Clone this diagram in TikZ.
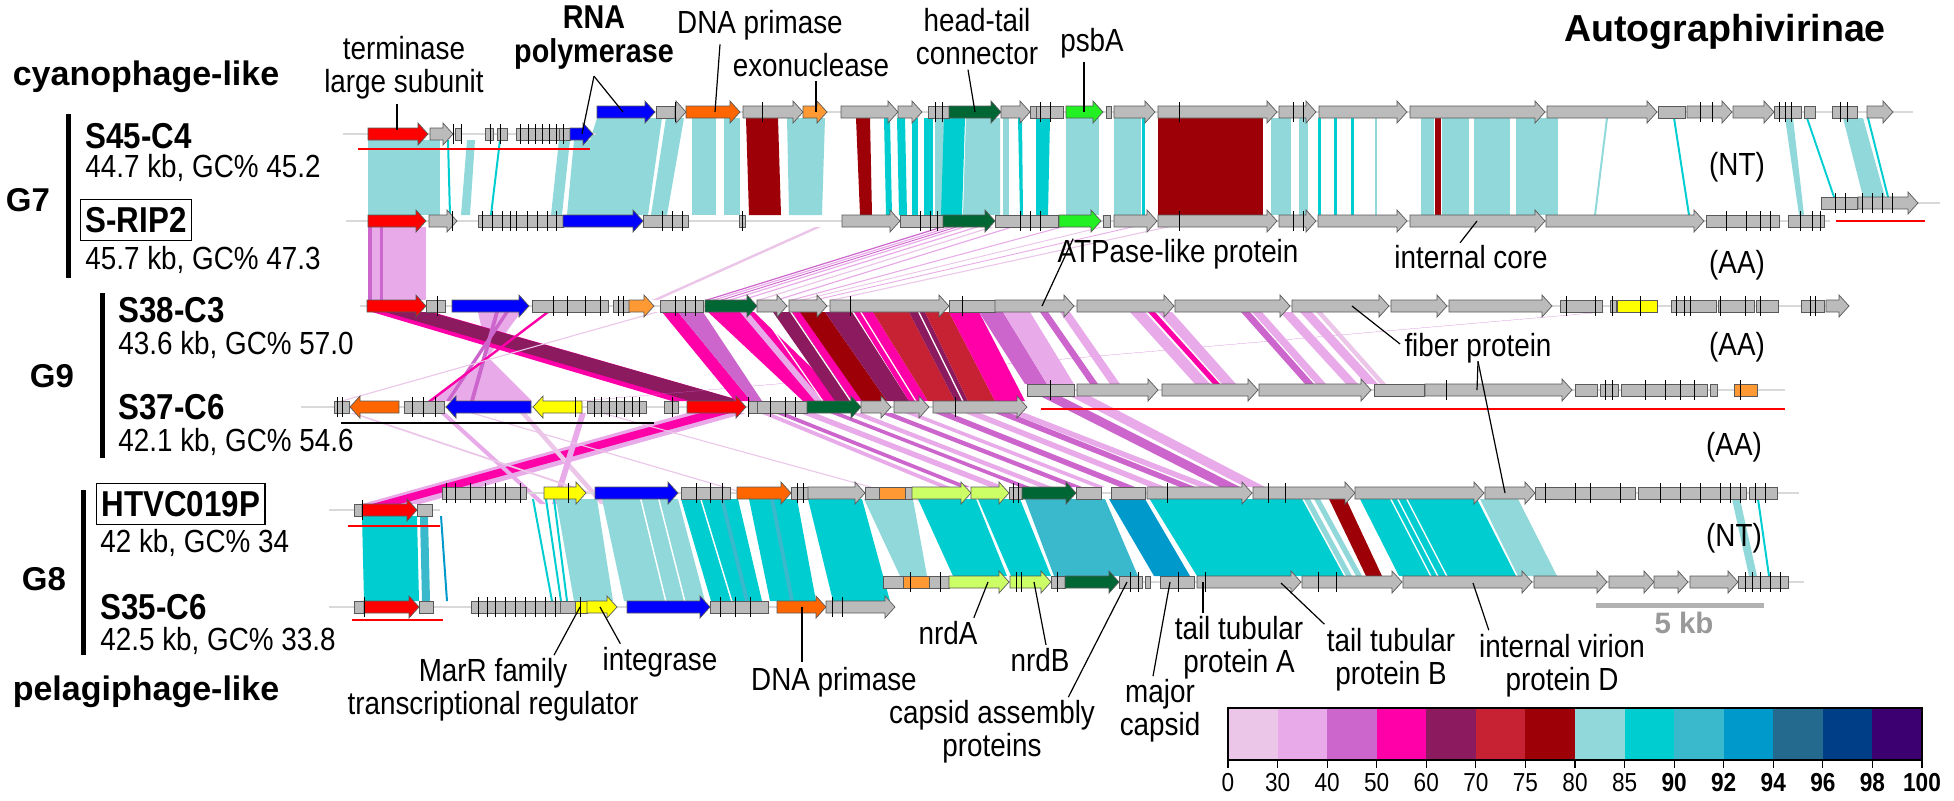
\documentclass[tikz,border=0pt]{standalone}
\usepackage{fontspec}
\setmainfont{Liberation Sans}
\newfontfamily\narrowfont{Liberation Sans}[FakeStretch=0.87]
\usepackage{xcolor}
% gene colours
\definecolor{gred}{HTML}{FF0000}
\definecolor{gblue}{HTML}{0000FF}
\definecolor{gorange}{HTML}{FF6600}
\definecolor{gltorange}{HTML}{FF9933}
\definecolor{gdkgreen}{HTML}{006633}
\definecolor{gltgreen}{HTML}{22F022}
\definecolor{gyellow}{HTML}{FFFF00}
\definecolor{gygreen}{HTML}{CCFF66}
\definecolor{ggrey}{HTML}{BBBBBB}
% identity scale
\definecolor{s0}{HTML}{EBC6E8}
\definecolor{s30}{HTML}{E8AAE8}
\definecolor{s40}{HTML}{CC66CC}
\definecolor{s50}{HTML}{FF00A8}
\definecolor{s60}{HTML}{8B1A5E}
\definecolor{s70}{HTML}{C62234}
\definecolor{s75}{HTML}{9E0008}
\definecolor{s80}{HTML}{90D8DA}
\definecolor{s85}{HTML}{00CDD0}
\definecolor{s90}{HTML}{3AB8CC}
\definecolor{s92}{HTML}{0099CC}
\definecolor{s94}{HTML}{236A8E}
\definecolor{s96}{HTML}{003F88}
\definecolor{s98}{HTML}{3C0070}
\usepackage{tikz}
\usetikzlibrary{positioning}

\newcommand{\genr}[4]{\filldraw[gene,fill=#4] (#1,#3-6) -- (#2-10,#3-6) -- (#2-10,#3-11) -- (#2,#3) -- (#2-10,#3+11) -- (#2-10,#3+6) -- (#1,#3+6) -- cycle;}
\newcommand{\genl}[4]{\filldraw[gene,fill=#4] (#2,#3-6) -- (#1+10,#3-6) -- (#1+10,#3-11) -- (#1,#3) -- (#1+10,#3+11) -- (#1+10,#3+6) -- (#2,#3+6) -- cycle;}
\newcommand{\genb}[4]{\filldraw[gene,fill=#4] (#1,#3-6) rectangle (#2,#3+6);}

\begin{document}
\begin{tikzpicture}[x=0.5pt, y=-0.5pt,
    gene/.style={draw=black!65, line width=0.35pt},
    track/.style={draw=black!15, line width=0.8pt},
    tick/.style={draw=black, line width=0.35pt},
    ptr/.style={draw=black, line width=0.6pt},
    uline/.style={draw=red, line width=0.8pt},
    gbar/.style={draw=black, line width=2.5pt},
    lbl/.style={font=\narrowfont\fontsize{16}{16.5}\selectfont, align=center, inner sep=0pt},
    info/.style={font=\narrowfont\fontsize{16}{17}\selectfont, anchor=west, inner sep=0pt},
    strain/.style={font=\narrowfont\bfseries\fontsize{18}{19}\selectfont, anchor=west, inner sep=0pt},
    boxed/.style={strain, draw=black, line width=0.6pt, inner xsep=2.5pt, inner ysep=4pt},
    grp/.style={font=\bfseries\fontsize{16.5}{18}\selectfont, inner sep=0pt},
    ttl/.style={font=\bfseries\fontsize{17}{19}\selectfont, inner sep=0pt},
    scl/.style={font=\narrowfont\fontsize{13}{14}\selectfont, inner sep=0pt}]
  \useasboundingbox (0,0) rectangle (1954,800);

  % ---- similarity bands, G7 (NT)
  \foreach \c/\p/\q/\r/\s in {s80/368/440/368/440, s85/447/449/449/451, s80/467/475/461/470,
      s85/499/501/490/492, s80/559/570/551/562, s80/574/593/567/590}
    \fill[\c] (\p,140) -- (\q,140) -- (\s,215) -- (\r,215) -- cycle;
  \foreach \c/\p/\q/\r/\s in {s80/597/662/567/648, s80/666/684/651/667, s80/692/716/692/716,
      s80/724/740/724/740, s75/746/778/749/781, s80/787/825/789/822, s75/856/870/860/872,
      s85/884/890/886/892, s85/897/905/899/907, s85/912/918/912/918, s85/924/933/924/933,
      s80/935/944/935/944, s85/944/965/941/962, s80/966/1000/963/1000, s80/1003/1009/1003/1009,
      s85/1018/1022/1020/1023, s85/1036/1050/1036/1048, s80/1066/1099/1066/1099,
      s80/1114/1141/1114/1141, s85/1142/1145/1142/1145, s75/1158/1263/1158/1263,
      s80/1271/1291/1271/1291, s80/1299/1308/1299/1308, s85/1318/1321/1318/1321,
      s85/1334/1337/1334/1337, s85/1351/1354/1351/1354, s80/1375/1377/1375/1377,
      s80/1421/1434/1421/1434, s75/1435/1441/1435/1441, s80/1442/1469/1442/1469,
      s80/1474/1510/1474/1510, s80/1516/1558/1516/1558, s80/1606/1608/1594/1596,
      s85/1673/1675/1688/1690, s80/1785/1793/1799/1804}
    \fill[\c] (\p,118) -- (\q,118) -- (\s,215) -- (\r,215) -- cycle;
  \foreach \c/\p/\q/\r/\s in {s85/1806/1808/1833/1835, s80/1843/1863/1863/1885, s85/1867/1869/1887/1889}
    \fill[\c] (\p,118) -- (\q,118) -- (\s,197) -- (\r,197) -- cycle;

  % ---- G7 to G9 (AA)
  \foreach \c/\p/\q/\r/\s in {s30/368/426/368/426, s40/368/372/368/372, s40/380/383/380/383,
      s0/815/821/652/658, s40/940/944/705/709, s30/948/952/712/716, s40/955/958/720/723,
      s30/962/966/728/732, s30/975/979/740/744, s0/990/994/757/761, s30/1010/1014/775/779,
      s30/1060/1064/790/794, s0/1100/1104/800/804, s30/1130/1134/813/817, s0/1165/1170/830/835}
    \fill[\c] (\p,227) -- (\q,227) -- (\s,300) -- (\r,300) -- cycle;

  % ---- G9 (AA)
  \fill[s30] (478,312) -- (521,312) -- (488,357) -- cycle;
  \fill[s30] (488,357) -- (429,401) -- (532,401) -- cycle;
  \foreach \c/\p/\q/\r/\s in {s50/372/432/672/742, s60/385/430/690/742, s40/505/509/446/450,
      s40/495/499/470/474, s50/546/550/428/432, s0/655/659/340/344, s40/1603/1605/580/582,
      s50/662/678/735/751, s40/678/703/751/762, s50/708/754/803/846, s30/740/748/815/823,
      s60/773/792/835/852, s50/792/808/852/862, s75/800/825/862/887, s60/825/852/887/909,
      s50/854/873/909/928, s70/873/909/928/955, s60/909/925/955/968, s70/925/949/968/995,
      s50/949/979/995/1025}
    \fill[\c] (\p,312) -- (\q,312) -- (\s,401) -- (\r,401) -- cycle;
  \foreach \c/\p/\q/\r/\s in {s40/979/1003/1025/1047, s30/1003/1030/1047/1074, s40/1040/1048/1090/1098,
      s30/1060/1070/1110/1120, s30/1130/1145/1195/1210, s50/1148/1155/1213/1220,
      s30/1158/1172/1222/1236, s40/1241/1250/1305/1314, s30/1252/1262/1316/1326,
      s30/1280/1292/1346/1358, s30/1300/1312/1366/1378, s0/1316/1322/1380/1386}
    \fill[\c] (\p,312) -- (\q,312) -- (\s,384) -- (\r,384) -- cycle;
  % white gaps between neighbouring hits
  \foreach \p/\r in {760/822, 790/850, 860/915, 918/962}
    \fill[white] (\p,312) -- (\p+1.5,312) -- (\r+1.5,401) -- (\r,401) -- cycle;

  % ---- G9 to G8 (AA)
  \foreach \c/\p/\q/\r/\s in {s30/687/746/362/420, s50/700/730/372/400, s30/440/446/540/546,
      s0/520/526/600/606, s30/580/586/552/558, s0/350/355/620/626, s0/600/604/930/934,
      s0/470/474/780/784}
    \fill[\c] (\p,413) -- (\q,413) -- (\s,504) -- (\r,504) -- cycle;
  \foreach \c/\p/\q/\r/\s in {s30/760/770/940/950, s40/775/785/960/970, s30/800/815/990/1005,
      s40/830/840/1020/1030, s30/850/862/1040/1052, s40/880/892/1070/1082, s30/905/915/1095/1105,
      s40/935/950/1120/1135, s30/965/980/1150/1165, s40/995/1010/1180/1195, s30/1010/1025/1200/1215}
    \fill[\c] (\p,413) -- (\q,413) -- (\s,487) -- (\r,487) -- cycle;
  \foreach \c/\p/\q/\r/\s in {s40/1040/1060/1220/1240, s30/1070/1090/1245/1265}
    \fill[\c] (\p,396) -- (\q,396) -- (\s,487) -- (\r,487) -- cycle;

  % ---- G8 (NT)
  \foreach \c/\p/\q/\r/\s in {s85/362/417/364/419, s90/420/428/422/430, s92/440/442/446/448}
    \fill[\c] (\p,516) -- (\q,516) -- (\s,601) -- (\r,601) -- cycle;
  \foreach \c/\p/\q/\r/\s in {s85/532/534/551/553, s85/545/547/560/562, s85/553/555/566/568,
      s80/556/597/574/613, s80/602/678/624/705, s85/681/738/711/762, s90/720/724/745/749,
      s85/749/797/770/816, s90/770/774/790/794, s85/808/862/833/890}
    \fill[\c] (\p,499) -- (\q,499) -- (\s,601) -- (\r,601) -- cycle;
  \foreach \c/\p/\q/\r/\s in {s80/864/913/900/927, s85/918/976/953/1007, s85/978/1020/1011/1051,
      s90/1025/1105/1054/1138, s92/1109/1145/1154/1190, s85/1149/1302/1197/1344,
      s80/1304/1310/1346/1352, s80/1314/1320/1356/1362, s75/1329/1346/1366/1382,
      s85/1360/1477/1399/1516, s80/1480/1518/1518/1557, s80/1732/1740/1749/1757,
      s85/1757/1759/1768/1770}
    \fill[\c] (\p,499) -- (\q,499) -- (\s,576) -- (\r,576) -- cycle;
  \foreach \p/\r in {640/665, 658/684, 700/731, 742/765}
    \fill[white] (\p,499) -- (\p+1.5,499) -- (\r+1.5,601) -- (\r,601) -- cycle;
  \foreach \p/\r in {1148/1195, 1390/1430, 1397/1437, 1406/1446}
    \fill[white] (\p,499) -- (\p+1.5,499) -- (\r+1.5,576) -- (\r,576) -- cycle;

  % ---- genome tracks
  \draw[track] (343,134) -- (596,134);
  \draw[track] (597,112) -- (1913,112);
  \draw[track] (346,221) -- (1830,221);
  \draw[track] (1821,203) -- (1940,203);
  \draw[track] (360,306) -- (1849,306);
  \draw[track] (301,407) -- (1027,407);
  \draw[track] (1027,390) -- (1785,390);
  \draw[track] (329,510) -- (440,510);
  \draw[track] (442,493) -- (1799,493);
  \draw[track] (329,607) -- (895,607);
  \draw[track] (883,582) -- (1804,582);

  % S45-C4
  \foreach \d/\a/\b/\c in {r/368/428/gred, r/430/453/ggrey, b/455/461/ggrey, b/485/493/ggrey,
      b/497/507/ggrey, b/516/559/ggrey, b/559/570/ggrey, r/570/593/gblue}
    {\csname gen\d\endcsname{\a}{\b}{134}{\c}}
  \foreach \x in {453,461,490,500,520,528,535,542,549,556,563}
    \draw[tick] (\x,124) -- (\x,144);
  \foreach \d/\a/\b/\c in {r/597/655/gblue, b/656/675/ggrey, r/675/686/ggrey, r/686/740/gorange,
      r/743/803/ggrey, r/803/827/gltorange, r/841/898/ggrey, r/898/922/ggrey, b/928/949/ggrey,
      r/949/1001/gdkgreen, r/1001/1030/ggrey, b/1030/1036/ggrey, b/1036/1063/ggrey,
      r/1066/1103/gltgreen, b/1106/1111/ggrey, r/1114/1155/ggrey, r/1158/1277/ggrey,
      r/1279/1316/ggrey, r/1319/1407/ggrey, r/1410/1545/ggrey, r/1547/1657/ggrey,
      b/1658/1685/ggrey, r/1687/1732/ggrey, r/1733/1774/ggrey, b/1774/1801/ggrey,
      b/1804/1815/ggrey, b/1832/1857/ggrey, r/1867/1893/ggrey}
    {\csname gen\d\endcsname{\a}{\b}{112}{\c}}
  \foreach \x in {675,762,935,942,1040,1050,1179,1293,1303,1700,1712,1779,1785,1791,1840,1847}
    \draw[tick] (\x,102) -- (\x,122);

  % S-RIP2
  \foreach \d/\a/\b/\c in {r/368/426/gred, r/429/457/ggrey, b/478/563/ggrey, r/563/643/gblue,
      b/643/688/ggrey, b/739/745/ggrey, r/842/900/ggrey, b/900/943/ggrey, r/943/995/gdkgreen,
      b/995/1058/ggrey, r/1059/1101/gltgreen, b/1103/1110/ggrey, r/1114/1157/ggrey,
      r/1158/1277/ggrey, r/1279/1316/ggrey, r/1318/1407/ggrey, r/1410/1545/ggrey,
      r/1546/1704/ggrey, b/1706/1779/ggrey, b/1788/1824/ggrey}
    {\csname gen\d\endcsname{\a}{\b}{221}{\c}}
  \foreach \x in {452,482,492,502,510,516,527,537,547,556,662,672,682,742,920,930,937,1020,
      1030,1040,1179,1293,1303,1726,1746,1760,1770,1800,1812,1820}
    \draw[tick] (\x,211) -- (\x,231);
  \foreach \d/\a/\b/\c in {b/1821/1857/ggrey, r/1858/1918/ggrey}
    {\csname gen\d\endcsname{\a}{\b}{203}{\c}}
  \foreach \x in {1835,1845,1862,1872,1882,1892}
    \draw[tick] (\x,193) -- (\x,213);

  % S38-C3
  \foreach \d/\a/\b/\c in {r/367/426/gred, b/426/445/ggrey, r/452/529/gblue, b/532/608/ggrey,
      b/613/629/ggrey, r/629/654/gltorange, b/660/703/ggrey, r/705/757/gdkgreen, r/757/787/ggrey,
      r/789/827/ggrey, r/830/949/ggrey, b/949/995/ggrey, r/995/1074/ggrey, r/1077/1174/ggrey,
      r/1175/1290/ggrey, r/1292/1389/ggrey, r/1391/1447/ggrey, r/1449/1552/ggrey,
      b/1560/1602/ggrey, b/1610/1616/ggrey, b/1617/1657/gyellow, b/1671/1716/ggrey,
      b/1718/1754/ggrey, b/1756/1778/ggrey, b/1801/1824/ggrey, r/1826/1849/ggrey}
    {\csname gen\d\endcsname{\a}{\b}{306}{\c}}
  \foreach \x in {437,553,567,585,600,618,623,675,685,695,850,962,1566,1595,1612,1640,1676,
      1684,1690,1720,1745,1760,1810,1815}
    \draw[tick] (\x,296) -- (\x,316);

  % S37-C6
  \foreach \d/\a/\b/\c in {b/334/349/ggrey, l/350/399/gorange, b/404/444/ggrey, l/446/531/gblue,
      l/533/582/gyellow, b/587/646/ggrey, b/664/678/ggrey, r/687/746/gred, b/748/757/ggrey,
      b/757/807/ggrey, r/807/861/gdkgreen, r/861/891/ggrey, r/894/929/ggrey, r/933/1027/ggrey}
    {\csname gen\d\endcsname{\a}{\b}{407}{\c}}
  \foreach \x in {337,342,412,423,435,575,594,601,609,616,624,632,639,672,748,770,785,795,955}
    \draw[tick] (\x,397) -- (\x,417);
  \foreach \d/\a/\b/\c in {b/1027/1074/ggrey, r/1077/1158/ggrey, r/1162/1258/ggrey,
      r/1259/1371/ggrey, b/1374/1424/ggrey, r/1425/1572/ggrey, b/1575/1597/ggrey,
      b/1600/1618/ggrey, b/1621/1707/ggrey, b/1710/1717/ggrey, b/1734/1757/gltorange}
    {\csname gen\d\endcsname{\a}{\b}{390}{\c}}
  \foreach \x in {1050,1446,1605,1612,1645,1665,1680,1694,1740}
    \draw[tick] (\x,380) -- (\x,400);

  % HTVC019P
  \foreach \d/\a/\b/\c in {b/354/362/ggrey, r/362/417/gred, b/417/432/ggrey}
    {\csname gen\d\endcsname{\a}{\b}{510}{\c}}
  \draw[tick] (362,500) -- (362,520);
  \foreach \d/\a/\b/\c in {b/442/526/ggrey, r/544/586/gyellow, r/595/678/gblue, b/681/730/ggrey,
      r/737/791/gorange, b/791/808/ggrey, r/808/865/ggrey, b/865/879/ggrey, b/879/905/gltorange,
      b/905/912/ggrey, r/912/971/gygreen, r/971/1009/gygreen, b/1009/1022/ggrey,
      r/1022/1076/gdkgreen, b/1076/1101/ggrey, b/1111/1145/ggrey, r/1147/1252/ggrey,
      r/1253/1355/ggrey, r/1355/1484/ggrey, r/1485/1535/ggrey, b/1535/1635/ggrey,
      b/1638/1746/ggrey, b/1749/1777/ggrey}
    {\csname gen\d\endcsname{\a}{\b}{493}{\c}}
  \foreach \x in {446,455,470,485,495,505,520,568,696,710,722,797,803,1013,1018,1167,1268,
      1285,1545,1575,1590,1620,1660,1680,1700,1720,1730,1740,1755,1765}
    \draw[tick] (\x,483) -- (\x,503);

  % S35-C6
  \foreach \d/\a/\b/\c in {b/354/364/ggrey, r/364/419/gred, b/419/433/ggrey, b/471/560/ggrey,
      b/560/575/ggrey, b/575/587/gyellow, r/587/617/gyellow, r/627/710/gblue, b/710/768/ggrey,
      r/777/826/gorange, r/826/895/ggrey}
    {\csname gen\d\endcsname{\a}{\b}{607}{\c}}
  \foreach \x in {364,478,487,495,505,515,525,535,545,555,580,720,735,750,832,842}
    \draw[tick] (\x,597) -- (\x,617);
  \foreach \d/\a/\b/\c in {b/883/903/ggrey, b/903/929/gltorange, b/929/949/ggrey,
      r/949/1009/gygreen, r/1010/1051/gygreen, b/1051/1065/ggrey, r/1065/1119/gdkgreen,
      b/1119/1142/ggrey, b/1145/1150/ggrey, b/1160/1194/ggrey, r/1197/1301/ggrey,
      r/1302/1402/ggrey, r/1403/1532/ggrey, r/1534/1607/ggrey, r/1609/1654/ggrey,
      r/1654/1688/ggrey, r/1690/1738/ggrey, b/1738/1788/ggrey}
    {\csname gen\d\endcsname{\a}{\b}{582}{\c}}
  \foreach \x in {910,940,1016,1021,1057,1130,1138,1178,1205,1318,1336,1745,1752,1760,1770,1780}
    \draw[tick] (\x,572) -- (\x,592);

  % underlines of shifted segments
  \draw[uline] (358,149) -- (590,149);
  \draw[uline] (1836,221) -- (1925,221);
  \draw[uline] (1041,409) -- (1785,409);
  \draw[uline] (348,526) -- (440,526);
  \draw[uline] (352,620) -- (443,620);
  \draw[draw=black, line width=0.8pt] (341,423) -- (654,423);

  % ---- titles and genome names
  \node[ttl] (cyano) at (146,77) {cyanophage-like};
  \node[ttl] (pelagi) at (146,692) {pelagiphage-like};
  \node[font=\bfseries\fontsize{18.8}{20}\selectfont, inner sep=0pt] (subfam) at (1725,32) {Autographivirinae};
  \draw[gbar] (68,114) -- (68,278);
  \draw[gbar] (102,293) -- (102,458);
  \draw[gbar] (83,490) -- (83,655);
  \node[grp] (g7) at (28,200) {G7};
  \node[grp] (g9) at (52,376) {G9};
  \node[grp] (g8) at (44,579) {G8};
  \node[strain] (s45) at (85,136) {S45-C4};
  \node[info] (s45i) at (85,168) {44.7 kb, GC\% 45.2};
  \node[boxed] (srip) at (80,220) {S-RIP2};
  \node[info] (sripi) at (85,260) {45.7 kb, GC\% 47.3};
  \node[strain] (s38) at (118,310) {S38-C3};
  \node[info] (s38i) at (118,345) {43.6 kb, GC\% 57.0};
  \node[strain] (s37) at (118,407) {S37-C6};
  \node[info] (s37i) at (118,442) {42.1 kb, GC\% 54.6};
  \node[boxed] (htvc) at (96,504) {HTVC019P};
  \node[info] (htvci) at (100,543) {42 kb, GC\% 34};
  \node[strain] (s35) at (100,607) {S35-C6};
  \node[info] (s35i) at (100,641) {42.5 kb, GC\% 33.8};
  \node[lbl] (nt1) at (1737,167) {(NT)};
  \node[lbl] (aa1) at (1737,265) {(AA)};
  \node[lbl] (aa2) at (1737,347) {(AA)};
  \node[lbl] (aa3) at (1734,447) {(AA)};
  \node[lbl] (nt2) at (1734,538) {(NT)};

  % ---- gene labels
  \coordinate (tlsG) at (397,130);
  \coordinate (rnapG) at (623,112);
  \coordinate (rnapH) at (582,134);
  \coordinate (dnapG) at (715,112);
  \coordinate (exoG) at (816,112);
  \coordinate (htcG) at (975,112);
  \coordinate (psbaG) at (1084,112);
  \coordinate (atpG) at (1042,306);
  \coordinate (icoreG) at (1477,221);
  \coordinate (fibG) at (1352,306);
  \coordinate (fibH) at (1477,390);
  \coordinate (fibK) at (1505,493);
  \coordinate (marrG) at (580,607);
  \coordinate (integG) at (600,607);
  \coordinate (dnpbG) at (802,607);
  \coordinate (nrdaG) at (988,582);
  \coordinate (nrdbG) at (1034,582);
  \coordinate (csaG) at (1127,582);
  \coordinate (mcapG) at (1170,582);
  \coordinate (ttaG) at (1203,582);
  \coordinate (ttbG) at (1281,583);
  \coordinate (ivpG) at (1473,583);

  \node[lbl] (tls) at (404,68) {terminase\\large subunit};
  \node[lbl, font=\narrowfont\bfseries\fontsize{16.5}{17}\selectfont] (rnap) at (594,38) {RNA\\polymerase};
  \node[lbl] (dnap) at (760,25) {DNA primase};
  \node[lbl] (exo) at (811,65) {exonuclease};
  \node[lbl] (htc) at (977,37) {head-tail\\connector};
  \node[lbl] (psba) at (1092,43) {psbA};
  \node[lbl] (atp) at (1178,254) {ATPase-like protein};
  \node[lbl] (icore) at (1471,257) {internal core};
  \node[lbl] (fib) at (1478,348) {fiber protein};
  \node[lbl] (marr) at (493,690) {MarR family\\transcriptional regulator};
  \node[lbl] (integ) at (660,662) {integrase};
  \node[lbl] (dnpb) at (834,682) {DNA primase};
  \node[lbl] (nrda) at (948,633) {nrdA};
  \node[lbl] (nrdb) at (1040,660) {nrdB};
  \node[lbl] (csa) at (992,732) {capsid assembly\\proteins};
  \node[lbl] (mcap) at (1160,711) {major\\capsid};
  \node[lbl] (tta) at (1239,648) {tail tubular\\protein A};
  \node[lbl] (ttb) at (1391,660) {tail tubular\\protein B};
  \node[lbl] (ivp) at (1562,666) {internal virion\\protein D};

  \draw[ptr] (tls.south -| tlsG) ++(0,4) -- (tlsG);
  \draw[ptr] (rnap.south) ++(0,6) -- (rnapG);
  \draw[ptr] (rnap.south) ++(0,6) -- (rnapH);
  \draw[ptr] (dnap.south) ++(-40,4) -- (dnapG);
  \draw[ptr] (exo.south -| exoG) ++(0,4) -- (exoG);
  \draw[ptr] (htc.south) ++(-9,4) -- (htcG);
  \draw[ptr] (psba.south -| psbaG) ++(0,4) -- (psbaG);
  \draw[ptr] (atp.north west) ++(16,0) -- (atpG);
  \draw[ptr] (icore.north) ++(-11,-2) -- (icoreG);
  \draw[ptr] (fib.west) ++(-4,-4) -- (fibG);
  \draw[ptr] (fib.south) ++(0,-2) -- (fibH);
  \draw[ptr] (fib.south) ++(0,-2) -- (fibK);
  \draw[ptr] (marr.north) ++(61,-3) -- (marrG);
  \draw[ptr] (integ.north west) ++(18,-3) -- (integG);
  \draw[ptr] (dnpb.north -| dnpbG) ++(0,-5) -- (dnpbG);
  \draw[ptr] (nrda.north east) ++(-4,-3) -- (nrdaG);
  \draw[ptr] (nrdb.north) ++(6,-3) -- (nrdbG);
  \draw[ptr] (csa.north east) ++(-27,-3) -- (csaG);
  \draw[ptr] (mcap.north) ++(-7,-3) -- (mcapG);
  \draw[ptr] (tta.north -| ttaG) ++(0,-3) -- (ttaG);
  \draw[ptr] (ttb.north west) ++(-2,-4) -- (ttbG);
  \draw[ptr] (ivp.north west) ++(10,-4) -- (ivpG);

  % ---- scale bar and identity key
  \draw[draw=black!30, line width=2.5pt] (1596,605) -- (1764,605);
  \node[font=\bfseries\fontsize{14.75}{16}\selectfont, text=black!40, inner sep=0pt] (kb) at (1684,623) {5 kb};
  \foreach \c [count=\i from 0] in {s0,s30,s40,s50,s60,s70,s75,s80,s85,s90,s92,s94,s96,s98}
    \fill[\c] (1228+49.57*\i,708) rectangle (1228+49.57*\i+49.57,760);
  \draw[line width=0.8pt] (1228,708) rectangle (1922,760);
  \foreach \v [count=\i from 0] in {0,30,40,50,60,70,75,80,85,\textbf{90},\textbf{92},\textbf{94},\textbf{96},\textbf{98},\textbf{100}}
    {\draw[line width=0.6pt] (1228+49.57*\i,760) -- (1228+49.57*\i,768);
     \node[scl] (k\i) at (1228+49.57*\i,783) {\v};}
\end{tikzpicture}
\end{document}
